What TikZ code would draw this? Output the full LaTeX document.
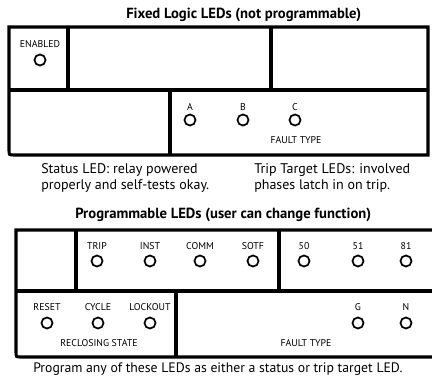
\documentclass[tikz,border=0pt]{standalone}
\usepackage{fontspec}
\setmainfont{PT Sans}
\begin{document}
\begin{tikzpicture}[x=0.75pt,y=-0.75pt,
  panel/.style={line width=2.3pt},
  led/.style={circle,draw,line width=1.3pt,minimum size=8.3pt,inner sep=0pt},
  lbl/.style={font=\fontsize{7.4}{8}\selectfont,inner sep=0pt},
  title/.style={font=\fontsize{11}{13}\selectfont\bfseries,inner sep=0pt,anchor=west},
  caption/.style={font=\fontsize{10.5}{12}\selectfont,inner sep=0pt,anchor=west,align=left}]
\useasboundingbox (0,0) rectangle (432,381);

% ---------- titles and captions
\node[title] (t1) at (126,15) {Fixed Logic LEDs (not programmable)};
\node[caption,anchor=north west] (c1) at (41,163) {Status LED: relay powered\\properly and self-tests okay.};
\node[caption,anchor=north west] (c2) at (254,163) {Trip Target LEDs: involved\\phases latch in on trip.};
\node[title] (t2) at (75,215) {Programmable LEDs (user can change function)};
\node[caption,font=\fontsize{10.3}{12}\selectfont] (c3) at (33,369) {Program any of these LEDs as either a status or trip target LED.};

% ---------- fixed panel
\draw[panel] (9,27) -- (428,27) -- (428,155) -- (14,155) .. controls (9,155) .. (9,150) -- cycle;
\draw[panel] (9,90) -- (428,90);
\draw[panel] (68,27) -- (68,90);
\draw[panel] (271,27) -- (271,90);
\draw[panel] (170,90) -- (170,155);

\node[lbl] (lenabled) at (40,44) {ENABLED};
\node[led] (enabled) at (40,60) {};
\node[lbl] (la) at (190,107) {A};
\node[led] (a) at (190,120) {};
\node[lbl] (lb) at (243,107) {B};
\node[led] (b) at (243,120) {};
\node[lbl] (lc) at (295,107) {C};
\node[led] (c) at (295,120) {};
\node[lbl] (ft1) at (296,140) {FAULT TYPE};

% ---------- programmable panel
\draw[panel] (432,230) -- (16,230) -- (16,352) .. controls (16,357) .. (21,357) -- (432,357);
\draw[panel] (16,291) -- (432,291);
\draw[panel] (76,230) -- (76,291);
\draw[panel] (279,230) -- (279,291);
\draw[panel] (176,291) -- (176,357);

\foreach \n/\t/\x in {trip/TRIP/97, inst/INST/150, comm/COMM/200, sotf/SOTF/253,
                      f50/50/304, f51/51/358, f81/81/406}{
  \node[lbl] (l\n) at (\x,246) {\t};
  \node[led] (\n) at (\x,261) {};
}
\foreach \n/\t/\x in {reset/RESET/47, cycle/CYCLE/98, lockout/LOCKOUT/150,
                      g/G/358, nn/N/406}{
  \node[lbl] (l\n) at (\x,307) {\t};
  \node[led] (\n) at (\x,323) {};
}
\node[lbl] (rs) at (99,343) {RECLOSING STATE};
\node[lbl] (ft2) at (306,343) {FAULT TYPE};
\end{tikzpicture}
\end{document}
